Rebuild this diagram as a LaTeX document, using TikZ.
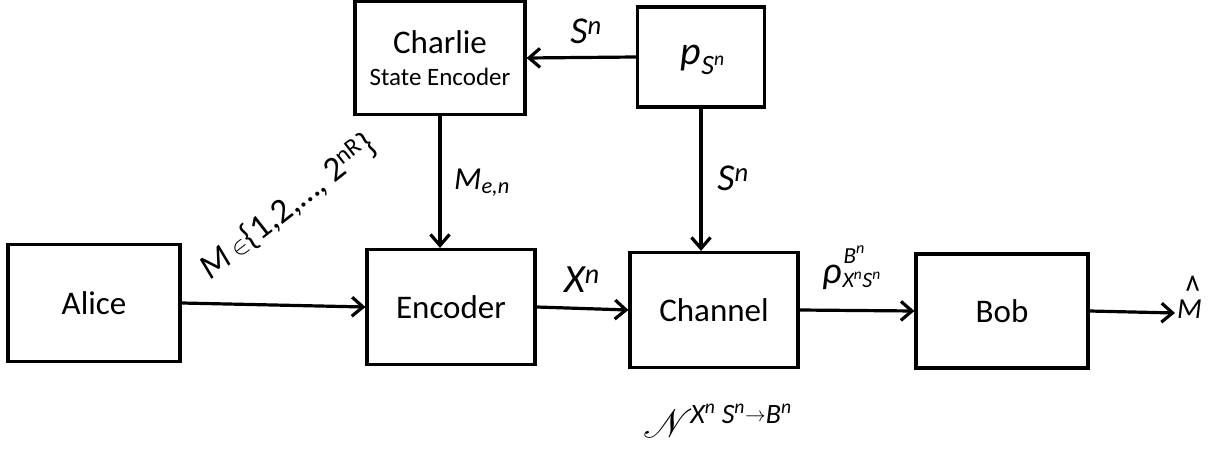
\documentclass[tikz,border=0pt]{standalone}
\usepackage{fontspec}
\setmainfont{Carlito}
\usepackage{mathrsfs}
\usetikzlibrary{arrows.meta}
\newcommand\scrN{\resizebox{!}{28pt}{$\mathscr{N}$}}
\newcommand\smallarr{\raisebox{2pt}{$\scriptstyle\rightarrow$}}
\newcommand\fs[1]{\fontsize{#1}{#1}\selectfont}
\tikzset{
  blk/.style={draw, line width=3.2pt, rectangle, inner sep=0pt, align=center, font=\fontsize{33}{36}\selectfont},
  conn/.style={line width=3.2pt, -{Straight Barb[length=11pt,width=19pt,line width=3.2pt]}},
  lbl/.style={inner sep=0pt, font=\fontsize{38}{42}\selectfont\itshape},
}
\begin{document}
\begin{tikzpicture}[x=1pt,y=-1pt]
\useasboundingbox (0,0) rectangle (1219,450);
% boxes
\node[blk, minimum width=172pt, minimum height=117pt] (alice) at (94,303) {Alice};
\node[blk, minimum width=168pt, minimum height=115pt] (enc) at (451,307) {Encoder};
\node[blk, minimum width=168pt, minimum height=115pt] (chan) at (714,310) {Channel};
\node[blk, minimum width=172pt, minimum height=114pt] (bob) at (1002,311) {Bob};
\node[blk, minimum width=170pt, minimum height=113pt] (charlie) at (440,58) {Charlie\\[-4pt]{\fontsize{25}{28}\selectfont State Encoder}};
\node[blk, minimum width=127pt, minimum height=100pt] (ps) at (701,57) {};
\coordinate (out) at (1175,313);
% connectors
\draw[conn] (ps.west) -- (charlie.east);
\draw[conn] (charlie.south) -- (charlie.south |- enc.north);
\draw[conn] (ps.south) -- (ps.south |- chan.north);
\draw[conn] (alice.east) -- (enc.west);
\draw[conn] (enc.east) -- (chan.west);
\draw[conn] (chan.east) -- (bob.west);
\draw[conn] (bob.east) -- (out);
% labels
\node[lbl, font=\fontsize{40}{44}\selectfont\itshape] (l1) at (703,60) {p\textsubscript{S\textsuperscript{n}}};
\node[lbl] (l2) at (586,31) {S\textsuperscript{n}};
\node[lbl, font=\fontsize{32}{36}\selectfont\itshape] (l3) at (482,183) {M\textsubscript{e,n}};
\node[lbl] (l4) at (733,178) {S\textsuperscript{n}};
\node[lbl, font=\fontsize{40}{44}\selectfont\itshape] (l5) at (582,280) {X\textsuperscript{n}};
\node[lbl, font=\fs{38}\itshape, anchor=base west] (l6) at (822,283) {ρ\hspace{1pt}\rlap{\hspace{1pt}\raisebox{20pt}{\fs{23}B\textsuperscript{n}}}\raisebox{-4pt}{\fs{22}X\textsuperscript{n}S\textsuperscript{n}}};
\node[lbl, font=\fs{29}\itshape, anchor=base west] (l7) at (1177,318) {\rlap{\hspace{0.27em}\raisebox{13pt}{\upshape\scalebox{1.05}[1.5]{\textasciicircum}}}M};
\node[lbl, font=\fs{28}\itshape, anchor=base west] (l8) at (643,423) {\raisebox{-14pt}{\scrN}\hspace{-3pt}X\textsuperscript{n} S\textsuperscript{n}\smallarr B\textsuperscript{n}};
\node[lbl, font=\fontsize{35}{38}\selectfont\itshape, rotate=38] (l9) at (288,207) {M\,{\upshape$\in$\{1,2,…, 2\textsuperscript{nR}\}}};
\end{tikzpicture}
\end{document}
